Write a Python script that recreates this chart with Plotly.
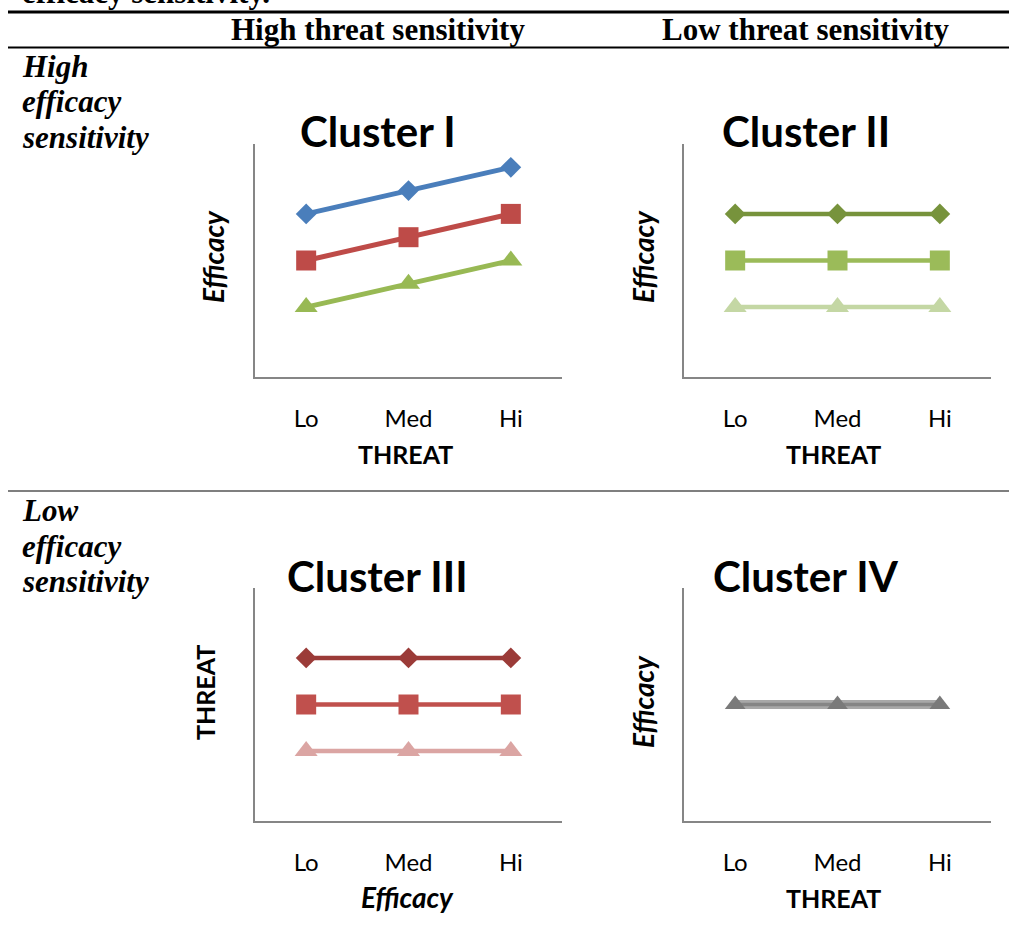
import plotly.graph_objects as go

# ---------------- data ----------------
threat_levels = ["Lo", "Med", "Hi"]
efficacy_levels = ["Lo", "Med", "Hi"]

c1_high = [7, 8, 9]
c1_mid = [5, 6, 7]
c1_low = [3, 4, 5]

c2_high = [7, 7, 7]
c2_mid = [5, 5, 5]
c2_low = [3, 3, 3]

c3_high = [7, 7, 7]
c3_mid = [5, 5, 5]
c3_low = [3, 3, 3]

c4_all = [5, 5, 5]

titles = ["Cluster I", "Cluster II", "Cluster III", "Cluster IV"]
col_headers = ["High threat sensitivity", "Low threat sensitivity"]

# ---------------- layout helpers ----------------
W, H = 1009, 929
def px(x):
    return x / W
def py(y):
    return 1 - y / H

fig = go.Figure()

AXC = "#868686"
SANS = "Lato"
SERIF = "Liberation Serif"

def add_line(xa, ya, x, y, color, symbol, msize, lw=5, mcolor=None):
    fig.add_trace(go.Scatter(
        x=x, y=y, xaxis=xa, yaxis=ya, mode="lines+markers",
        line=dict(color=color, width=lw),
        marker=dict(symbol=symbol, size=msize, color=mcolor or color, line=dict(width=0)),
        showlegend=False, hoverinfo="skip"))

# Cluster I
add_line("x", "y", threat_levels, c1_high, "#4A7EBB", "diamond", 16)
add_line("x", "y", threat_levels, c1_mid, "#BE4B48", "square", 20)
add_line("x", "y", threat_levels, c1_low, "#98B954", "triangle-up", 20)
# Cluster II
add_line("x2", "y2", threat_levels, c2_high, "#77933C", "diamond", 16, lw=4.5)
add_line("x2", "y2", threat_levels, c2_mid, "#9BBB59", "square", 20, lw=4.5)
add_line("x2", "y2", threat_levels, c2_low, "#C4D7A4", "triangle-up", 20, lw=4.5)
# Cluster III
add_line("x3", "y3", efficacy_levels, c3_high, "#9B3B38", "diamond", 16, lw=4.5)
add_line("x3", "y3", efficacy_levels, c3_mid, "#C0504D", "square", 20, lw=4.5)
add_line("x3", "y3", efficacy_levels, c3_low, "#DBA5A3", "triangle-up", 20, lw=4.5)
# Cluster IV (overlapping grey series)
fig.add_trace(go.Scatter(x=threat_levels, y=c4_all, xaxis="x4", yaxis="y4", mode="lines",
                         line=dict(color="#A8A8A8", width=9), showlegend=False, hoverinfo="skip"))
add_line("x4", "y4", threat_levels, c4_all, "#858585", "triangle-up", 18, lw=3.5, mcolor="#7A7A7A")

boxes = {
    1: (255, 562, 144, 377),
    2: (684, 991, 144, 377),
    3: (255, 562, 588, 821),
    4: (684, 991, 588, 821),
}

layout = dict(width=W, height=H, margin=dict(l=0, r=0, t=0, b=0),
              paper_bgcolor="white", plot_bgcolor="white", showlegend=False)
for i, (x0, x1, y0, y1) in boxes.items():
    s = "" if i == 1 else str(i)
    layout["xaxis" + s] = dict(domain=[px(x0), px(x1)], anchor="y" + s, type="category",
                               range=[-0.5, 2.5], showline=True, linecolor=AXC, linewidth=2,
                               showgrid=False, zeroline=False, ticks="",
                               tickfont=dict(family=SANS, size=24, color="black"),
                               ticklabelstandoff=19, fixedrange=True)
    layout["yaxis" + s] = dict(domain=[py(y1), py(y0)], anchor="x" + s, range=[0, 10],
                               showline=True, linecolor=AXC, linewidth=2, showgrid=False,
                               zeroline=False, showticklabels=False, ticks="", fixedrange=True)
fig.update_layout(**layout)

ann = []
def text(x, y, t, size, family, xanchor="center", yanchor="middle", angle=0):
    ann.append(dict(x=px(x), y=py(y), xref="paper", yref="paper", text=t, showarrow=False,
                    font=dict(family=family, size=size, color="black"),
                    xanchor=xanchor, yanchor=yanchor, textangle=angle))

# table-like headers
text(20, -7, "<b>efficacy sensitivity.</b>", 31, SERIF, xanchor="left")
text(378, 30, "<b>" + col_headers[0] + "</b>", 31, SERIF)
text(806, 30, "<b>" + col_headers[1] + "</b>", 31, SERIF)
for dy in (0, 444):
    first = "High" if dy == 0 else "Low"
    for j, w in enumerate([first, "efficacy", "sensitivity"]):
        text(20, 67 + dy + 35 * j, "<b><i>" + w + "</i></b>", 31, SERIF, xanchor="left")

# cluster titles
text(378, 131, "<b>" + titles[0] + "</b>", 42, SANS)
text(806, 131, "<b>" + titles[1] + "</b>", 42, SANS)
text(377, 576, "<b>" + titles[2] + "</b>", 42, SANS)
text(806, 576, "<b>" + titles[3] + "</b>", 42, SANS)

# axis titles
text(405, 454, "<b>THREAT</b>", 25, SANS)
text(833, 454, "<b>THREAT</b>", 25, SANS)
text(407, 897, "<b><i>Efficacy</i></b>", 28, SANS)
text(833, 898, "<b>THREAT</b>", 25, SANS)
text(213, 257, "<b><i>Efficacy</i></b>", 28, SANS, angle=-90)
text(643, 257, "<b><i>Efficacy</i></b>", 28, SANS, angle=-90)
text(205, 693, "<b>THREAT</b>", 25, SANS, angle=-90)
text(643, 702, "<b><i>Efficacy</i></b>", 28, SANS, angle=-90)

fig.update_layout(annotations=ann)

# rules of the table
shapes = [
    dict(type="line", xref="paper", yref="paper", x0=px(8), x1=1, y0=py(12), y1=py(12),
         line=dict(color="black", width=3)),
    dict(type="line", xref="paper", yref="paper", x0=px(8), x1=1, y0=py(47.5), y1=py(47.5),
         line=dict(color="black", width=2)),
    dict(type="line", xref="paper", yref="paper", x0=px(8), x1=1, y0=py(491), y1=py(491),
         line=dict(color="black", width=1.2)),
]
fig.update_layout(shapes=shapes)

fig.write_html("out.html", config={"displayModeBar": False, "staticPlot": True},
               post_script="document.body.style.margin='0';")
